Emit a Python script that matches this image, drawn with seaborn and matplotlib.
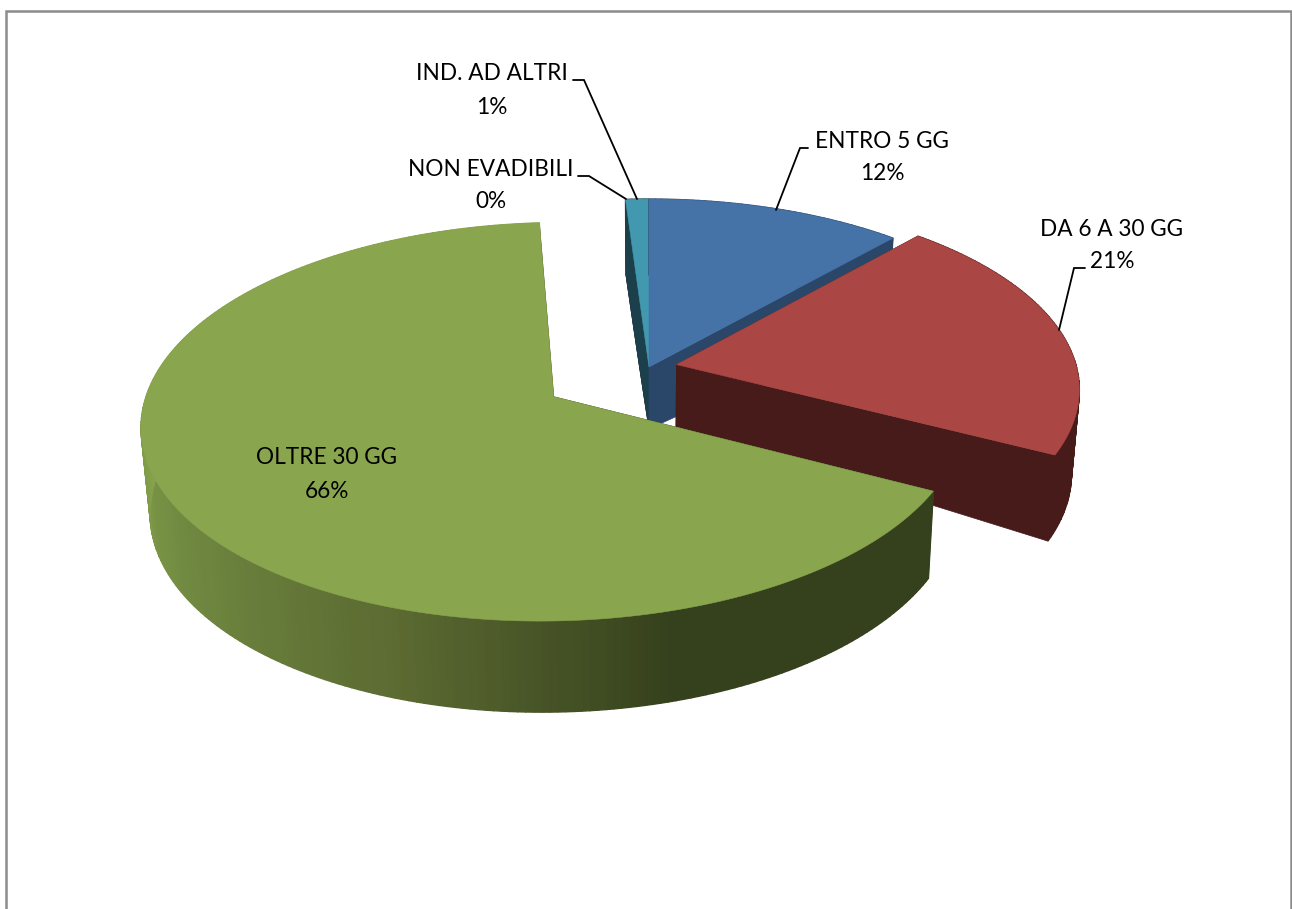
import numpy as np
import matplotlib
matplotlib.use("Agg")
import matplotlib.pyplot as plt
from matplotlib.patches import Polygon
import seaborn as sns

# dati del grafico
categorie = ["ENTRO 5 GG", "DA 6 A 30 GG", "OLTRE 30 GG", "NON EVADIBILI", "IND. AD ALTRI"]
valori = [11.6, 20.9, 66.4, 0.05, 1.05]
etichette = ["12%", "21%", "66%", "0%", "1%"]
esplosione = [0.0, 0.07, 0.28, 0.0, 0.0]

colori_top = ["#4572A7", "#AA4643", "#89A54E", "#71588F", "#4198AF"]
colori_lato = ["#2A4769", "#461B1A", "#35401C", "#2E2340", "#1B404C"]

# geometria della finta prospettiva (pixel)
CX, CY = 649, 367
A, B, K = 400, 188.7, 0.1235

sns.set_theme(style="white")
plt.rcParams['font.family'] = ['Lato', 'DejaVu Sans']

fig, ax = plt.subplots(figsize=(12.92, 9.09), dpi=100)
fig.subplots_adjust(0, 0, 1, 1)
ax.set_xlim(0, 1292)
ax.set_ylim(909, 0)
ax.axis("off")


def altezza_bordo(V):
    return 83 - 7 * V


def proietta(U, V, prof=0.0):
    w = 1 / (1 + K * V)
    x = CX + A * U * w - 7.5 * U * (prof > 0)
    y = CY - B * V * w + prof
    return x, y


def disegna_fetta(start, end, offs, top, lato, sfumato=None):
    teta = np.radians(np.arange(start, end + 0.5, 1.0))
    teta[-1] = np.radians(end)
    U = offs[0] + np.sin(teta)
    V = offs[1] + np.cos(teta)

    # facce radiali
    for t in (teta[0], teta[-1]):
        r = np.linspace(0, 1, 12)
        ur = offs[0] + r * np.sin(t)
        vr = offs[1] + r * np.cos(t)
        alto = [proietta(u, v) for u, v in zip(ur, vr)]
        prof = 62 + (altezza_bordo(vr) - 62) * r
        basso = [proietta(u, v, p) for u, v, p in zip(ur, vr, prof)]
        ax.add_patch(Polygon(alto + basso[::-1], facecolor=lato, edgecolor=lato, lw=0.5))

    # bordo esterno, un quadrilatero per grado
    for i in range(len(teta) - 1):
        colore = lato
        if sfumato is not None:
            gradi = np.degrees(teta[i])
            t = np.clip((270 - gradi) / (270 - 163), 0, 1)
            colore = sfumato[int(t * (len(sfumato) - 1))]
        q = [proietta(U[i], V[i]), proietta(U[i + 1], V[i + 1]),
             proietta(U[i + 1], V[i + 1], altezza_bordo(V[i + 1])),
             proietta(U[i], V[i], altezza_bordo(V[i]))]
        ax.add_patch(Polygon(q, facecolor=colore, edgecolor=colore, lw=1.0))

    # faccia superiore
    punti = [proietta(offs[0], offs[1])] + [proietta(u, v) for u, v in zip(U, V)]
    ax.add_patch(Polygon(punti, facecolor=top, edgecolor=top, lw=0.4))


frazioni = np.array(valori) / sum(valori) * 360
inizi = np.concatenate([[0], np.cumsum(frazioni)[:-1]])
fini = np.cumsum(frazioni)

sfumatura_verde = sns.blend_palette(["#86A24C", "#6F8840", "#5C6B32", "#35401C"], 100)

# dal fondo verso il davanti
for i in [3, 4, 0, 1, 2]:
    medio = np.radians((inizi[i] + fini[i]) / 2)
    offs = (esplosione[i] * np.sin(medio), esplosione[i] * np.cos(medio))
    disegna_fetta(inizi[i], fini[i], offs, colori_top[i], colori_lato[i],
                  sfumatura_verde if i == 2 else None)

# etichette
pos_etichette = {
    "ENTRO 5 GG": (882, 142, 174),
    "DA 6 A 30 GG": (1112, 230, 262),
    "OLTRE 30 GG": (327, 458, 491),
    "NON EVADIBILI": (491, 170, 202),
    "IND. AD ALTRI": (492, 74, 107),
}
for nome, perc in zip(categorie, etichette):
    x, y1, y2 = pos_etichette[nome]
    ax.text(x, y1, nome, ha="center", va="center", fontsize=16.3, color="black")
    ax.text(x, y2, perc, ha="center", va="center", fontsize=16.3, color="black")

# linee guida delle etichette
guide = [
    ([573, 584, 637], [80, 80, 199]),
    ([578, 589, 626], [176, 176, 199]),
    ([808, 800, 776], [148, 148, 210]),
    ([1085, 1074, 1059], [268, 268, 330]),
]
for xs, ys in guide:
    ax.plot(xs, ys, color="black", lw=1.3, solid_joinstyle="miter")

# cornice grigia
ax.plot([6, 6, 1291, 1291], [909, 11, 11, 909], color="#8C8C8C", lw=1.8, clip_on=False,
        solid_joinstyle="miter")

fig.savefig("out.png", dpi=100, facecolor="white")
plt.close(fig)
